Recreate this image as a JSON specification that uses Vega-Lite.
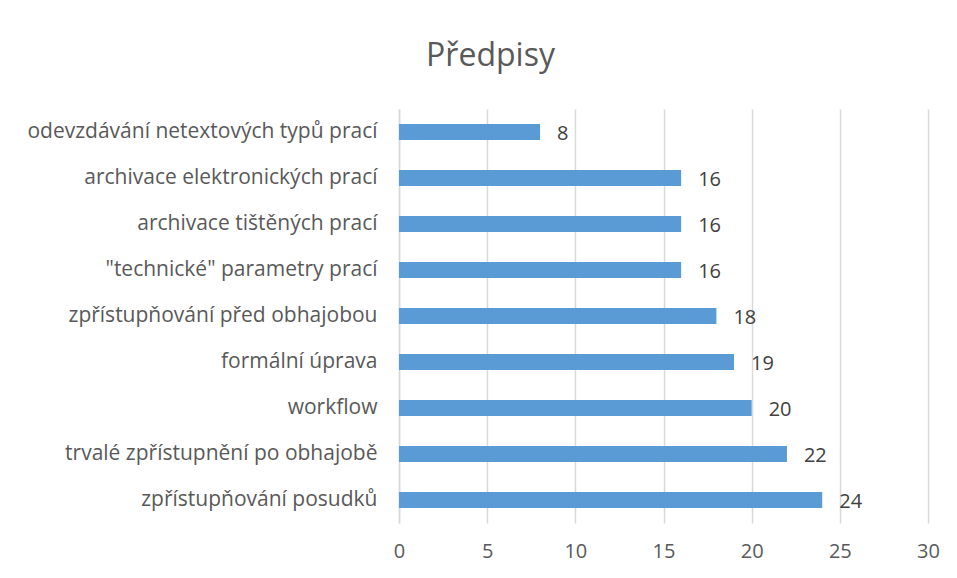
{
  "$schema": "https://vega.github.io/schema/vega-lite/v6.json",
  "width": 529,
  "height": 414,
  "autosize": "none",
  "padding": {"left": 399, "top": 109, "right": 29, "bottom": 55},
  "background": "white",
  "title": {"text": "Předpisy", "fontSize": 32, "font": "Open Sans", "fontWeight": "normal", "color": "#595959", "offset": 36, "dx": -173},
  "data": {"values": [
    {"kategorie": "odevzdávání netextových typů prací", "pocet": 8},
    {"kategorie": "archivace elektronických prací", "pocet": 16},
    {"kategorie": "archivace tištěných prací", "pocet": 16},
    {"kategorie": "\"technické\" parametry prací", "pocet": 16},
    {"kategorie": "zpřístupňování před obhajobou", "pocet": 18},
    {"kategorie": "formální úprava", "pocet": 19},
    {"kategorie": "workflow", "pocet": 20},
    {"kategorie": "trvalé zpřístupnění po obhajobě", "pocet": 22},
    {"kategorie": "zpřístupňování posudků", "pocet": 24}
  ]},
  "encoding": {
    "y": {"field": "kategorie", "type": "nominal", "sort": null, "title": null,
      "scale": {"paddingInner": 0.65, "paddingOuter": 0.325},
      "axis": {"ticks": false, "domain": true, "domainColor": "#d9d9d9", "domainWidth": 1.5, "labelFontSize": 21, "labelFont": "Open Sans", "labelColor": "#595959", "labelPadding": 22, "labelLimit": 400}},
    "x": {"field": "pocet", "type": "quantitative", "title": null,
      "scale": {"domain": [0, 30]},
      "axis": {"values": [0, 5, 10, 15, 20, 25, 30], "ticks": false, "domain": false, "grid": true, "gridColor": "#d9d9d9", "gridWidth": 1.5, "labelFontSize": 20, "labelFont": "Open Sans", "labelColor": "#595959", "labelPadding": 18, "labelFlush": false}}
  },
  "layer": [
    {"mark": {"type": "bar", "color": "#5b9bd5"}},
    {"mark": {"type": "text", "align": "left", "dx": 17, "dy": 2, "fontSize": 20, "font": "Open Sans", "color": "#404040"},
      "encoding": {"text": {"field": "pocet", "type": "quantitative"}}}
  ],
  "config": {"view": {"stroke": null}}
}
